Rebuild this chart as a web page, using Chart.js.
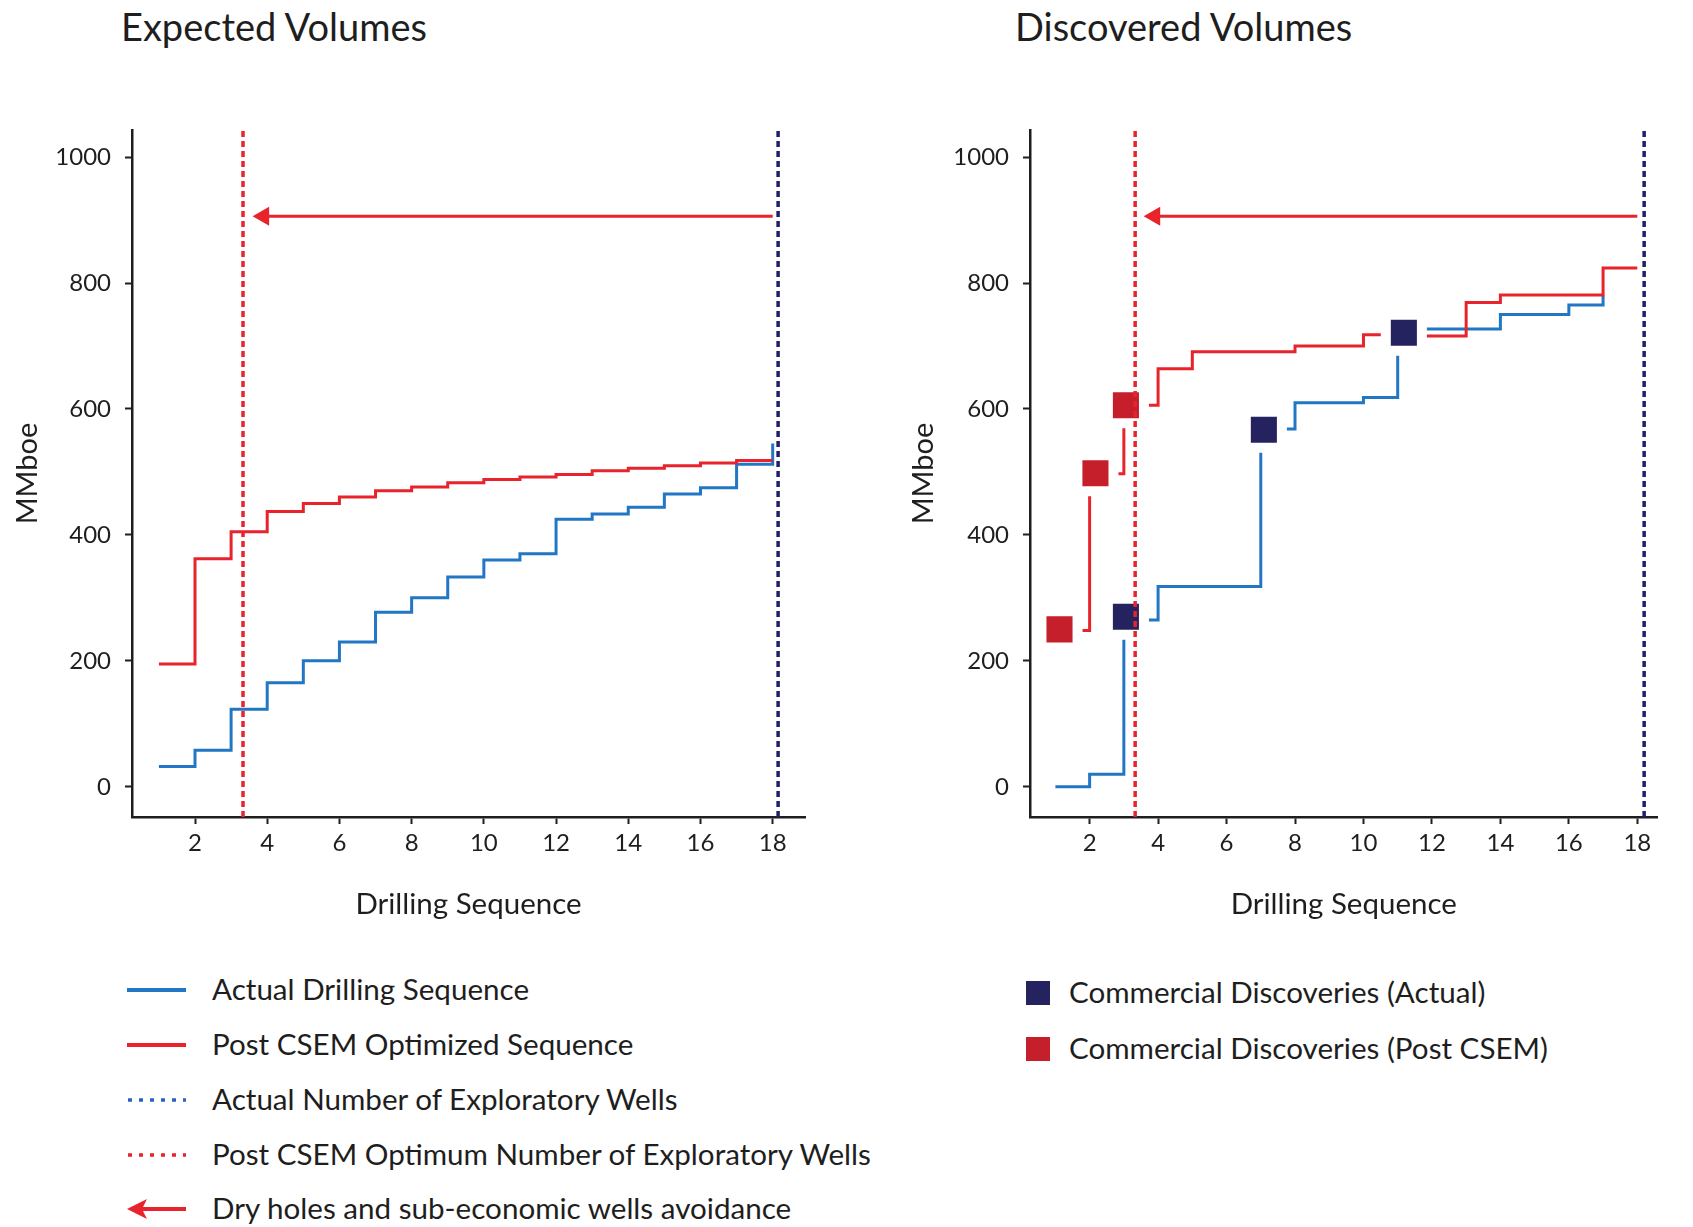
<!DOCTYPE html>
<html><head><meta charset="utf-8">
<script src="https://cdn.jsdelivr.net/npm/chart.js@4"></script>
<style>
html,body{margin:0;padding:0;background:#fff;}
body{width:1693px;height:1227px;position:relative;overflow:hidden;font-family:Lato,sans-serif;color:#1e1e1e;}
.title{position:absolute;font-size:38px;line-height:1;white-space:nowrap;}
.cw{position:absolute;}
.leg{position:absolute;height:30px;font-size:29.6px;line-height:30px;white-space:nowrap;}
.sym{position:absolute;}
</style></head>
<body>
<div class="title" style="left:121px;top:7px">Expected Volumes</div>
<div class="title" style="left:1015px;top:7px">Discovered Volumes</div>
<div class="cw" style="left:0;top:0;width:846px;height:940px"><canvas id="c1"></canvas></div>
<div class="cw" style="left:880px;top:0;width:813px;height:940px"><canvas id="c2"></canvas></div>

<svg class="sym" style="left:127px;top:976px" width="60" height="28"><line x1="0" y1="14" x2="59" y2="14" stroke="#2277c4" stroke-width="4"/></svg>
<div class="leg" style="left:212px;top:974px">Actual Drilling Sequence</div>
<svg class="sym" style="left:127px;top:1031px" width="60" height="28"><line x1="0" y1="14" x2="59" y2="14" stroke="#e8232b" stroke-width="4"/></svg>
<div class="leg" style="left:212px;top:1029px">Post CSEM Optimized Sequence</div>
<svg class="sym" style="left:127px;top:1086px" width="60" height="28"><line x1="1" y1="14" x2="59" y2="14" stroke="#2a62c0" stroke-width="3.5" stroke-dasharray="4 7"/></svg>
<div class="leg" style="left:212px;top:1084px">Actual Number of Exploratory Wells</div>
<svg class="sym" style="left:127px;top:1141px" width="60" height="28"><line x1="1" y1="14" x2="59" y2="14" stroke="#e8232b" stroke-width="3.5" stroke-dasharray="4 7"/></svg>
<div class="leg" style="left:212px;top:1139px">Post CSEM Optimum Number of Exploratory Wells</div>
<svg class="sym" style="left:127px;top:1195px" width="60" height="28"><line x1="14" y1="14" x2="59" y2="14" stroke="#e8232b" stroke-width="4"/><polygon points="0,14 20,4 15,14 20,24" fill="#e8232b"/></svg>
<div class="leg" style="left:212px;top:1193px">Dry holes and sub-economic wells avoidance</div>

<div class="sym" style="left:1026px;top:981px;width:24px;height:24px;background:#25235f"></div>
<div class="leg" style="left:1069px;top:977px">Commercial Discoveries (Actual)</div>
<div class="sym" style="left:1026px;top:1037px;width:24px;height:24px;background:#c41f2b"></div>
<div class="leg" style="left:1069px;top:1033px">Commercial Discoveries (Post CSEM)</div>

<script>
// ---- data ----
const wells = [1,2,3,4,5,6,7,8,9,10,11,12,13,14,15,16,17,18];
const expectedActual = [32,58,123,165,200,230,277,300,333,360,370,425,433,444,465,475,512,545];
const expectedPost   = [195,362,405,437,450,460,470,476,483,488,492,496,502,506,510,514,518,518];
const discoveredActual = [0,20,265,318,318,318,568,610,610,618,727,727,727,750,750,765,780];
const discoveredPost   = [248,497,606,664,691,691,691,700,700,718,716,716,769,781,781,781,824,824];
const discActualX = [3.06, 7.09, 11.18];
const discActualY = [270, 567, 721];
const discPostX = [1.12, 2.17, 3.06];
const discPostY = [250, 498, 606];
const optimumWells = 3.33;      // Post CSEM optimum number of wells
const actualWellsLeft = 18.15;  // Actual number of exploratory wells
const actualWellsRight = 18.2;
const arrowFrom = 18, arrowTo = 3.9, arrowLevel = 906;
const xTicks = [2,4,6,8,10,12,14,16,18];
const yTicks = [0,200,400,600,800,1000];
const yMin = -48, yMax = 1043;

const BLUE = '#2277c4', RED = '#e8232b', NAVY = '#1f1f6e', MNAVY = '#25235f', MRED = '#c41f2b';
const INK = '#1e1e1e';
const pts = (xs, ys) => ys.map((v, i) => ({x: xs[i], y: v}));

function commonDatasets(wellsX) {
  return [
    {data: [{x: optimumWells, y: yMin}, {x: optimumWells, y: yMax}], borderColor: RED, borderWidth: 3.5, borderDash: [6, 4], pointRadius: 0},
    {data: [{x: wellsX, y: yMin}, {x: wellsX, y: yMax}], borderColor: NAVY, borderWidth: 3.5, borderDash: [6, 4], pointRadius: 0},
    {data: [{x: arrowFrom, y: arrowLevel}, {x: arrowTo, y: arrowLevel}], borderColor: RED, borderWidth: 3,
     pointRadius: [0, 11], pointStyle: 'triangle', pointRotation: -90, pointBackgroundColor: RED, pointBorderWidth: 0}
  ];
}

function makeChart(id, xMin, xMax, datasets, yWidth, yTitlePad, rightPad) {
  return new Chart(document.getElementById(id), {
    type: 'line',
    data: {datasets},
    options: {
      responsive: true, maintainAspectRatio: false, animation: false, events: [],
      layout: {padding: {left: 0, top: 130, right: rightPad, bottom: 0}},
      plugins: {legend: {display: false}, tooltip: {enabled: false}},
      elements: {line: {tension: 0}},
      scales: {
        x: {
          type: 'linear', min: xMin, max: xMax,
          afterFit: s => { s.height = 123; },
          afterBuildTicks: s => { s.ticks = xTicks.map(v => ({value: v})); },
          grid: {drawOnChartArea: false, drawTicks: true, tickLength: 7, tickWidth: 2, tickColor: INK, color: INK},
          border: {display: true, color: INK, width: 2.5},
          ticks: {font: {family: 'Lato', size: 24}, color: INK, padding: 5, maxRotation: 0, autoSkip: false, callback: v => String(v)},
          title: {display: true, text: 'Drilling Sequence', font: {family: 'Lato', size: 29.5, lineHeight: 1.2}, color: INK, padding: {top: 0, bottom: 18}}
        },
        y: {
          type: 'linear', min: yMin, max: yMax,
          afterFit: s => { s.width = yWidth; },
          afterBuildTicks: s => { s.ticks = yTicks.map(v => ({value: v})); },
          grid: {drawOnChartArea: false, drawTicks: true, tickLength: 7, tickWidth: 2, tickColor: INK, color: INK},
          border: {display: true, color: INK, width: 2.5},
          ticks: {font: {family: 'Lato', size: 24}, color: INK, padding: 14, callback: v => String(v)},
          title: {display: true, text: 'MMboe', font: {family: 'Lato', size: 29, lineHeight: 1.2}, color: INK, padding: {top: yTitlePad, bottom: 0}}
        }
      }
    }
  });
}

const leftSets = commonDatasets(actualWellsLeft).concat([
  {data: pts(wells, expectedPost), borderColor: RED, borderWidth: 3, stepped: true, pointRadius: 0},
  {data: pts(wells, expectedActual), borderColor: BLUE, borderWidth: 3, stepped: true, pointRadius: 0}
]);
makeChart('c1', 0.255, 18.895, leftSets, 132, 10, 41);

const rightSets = commonDatasets(actualWellsRight).concat([
  {data: pts(discActualX, discActualY), showLine: false, pointStyle: 'rect', pointRadius: 25.5,
   pointBackgroundColor: MNAVY, pointBorderColor: '#fff', pointBorderWidth: 10},
  {data: pts(discPostX, discPostY), showLine: false, pointStyle: 'rect', pointRadius: 25.5,
   pointBackgroundColor: MRED, pointBorderColor: '#fff', pointBorderWidth: 10},
  {data: pts(wells, discoveredPost), borderColor: RED, borderWidth: 3, stepped: true, pointRadius: 0},
  {data: pts(wells, discoveredActual), borderColor: BLUE, borderWidth: 3, stepped: true, pointRadius: 0}
]);
makeChart('c2', 0.258, 18.59, rightSets, 150, 26, 0);
</script>
</body></html>
